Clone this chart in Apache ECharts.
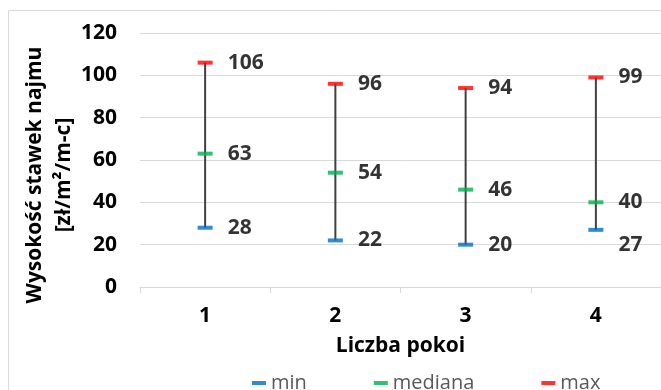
<!DOCTYPE html>
<html><head><meta charset="utf-8">
<script src="https://cdn.jsdelivr.net/npm/echarts@6/dist/echarts.min.js"></script>
<style>html,body{margin:0;padding:0;background:#fff}#c{width:661px;height:390px}</style>
</head><body><div id="c"></div>
<script>
const categories = ['1', '2', '3', '4'];
const minValues = [28, 22, 20, 27];
const medianValues = [63, 54, 46, 40];
const maxValues = [106, 96, 94, 99];
const yTicks = [0, 20, 40, 60, 80, 100, 120];
const seriesNames = ['min', 'mediana', 'max'];
const yTitle = ['Wysokość stawek najmu', '[zł/m²/m-c]'];
const xTitle = 'Liczba pokoi';

const FONT = '"Open Sans", sans-serif';
const colors = ['#0070C0', '#00B050', '#FF0000'];
const labelOffsets = { min: { 3: [0, 15] } };

function markerSeries(name, values, color) {
  return {
    name: name,
    type: 'scatter',
    symbol: 'rect',
    symbolSize: [15, 4],
    itemStyle: { color: color },
    z: 3,
    data: values.map((v, i) => {
      const d = { value: [i, v] };
      if (labelOffsets[name] && labelOffsets[name][i]) d.label = { offset: labelOffsets[name][i] };
      return d;
    }),
    label: {
      show: true, position: 'right', distance: 15,
      fontFamily: FONT, fontWeight: 'bold', fontSize: 21, color: '#000',
      formatter: p => String(p.value[1])
    }
  };
}

const chart = echarts.init(document.getElementById('c'));
chart.setOption({
  animation: false,
  textStyle: { fontFamily: FONT },
  grid: { left: 140, right: -2, top: 33, bottom: 103 },
  graphic: [
    { type: 'rect', shape: { x: 8.5, y: 10.5, width: 700, height: 400 }, style: { fill: 'none', stroke: '#d9d9d9', lineWidth: 1 }, silent: true, z: -10 },
    { type: 'text', x: 50, y: 175, rotation: Math.PI / 2,
      style: { text: yTitle.join('\n'), fontFamily: FONT, fontWeight: 'bold', fontSize: 21, lineHeight: 29, fill: '#000', align: 'center', verticalAlign: 'middle' } }
  ],
  legend: {
    data: seriesNames,
    left: 247, top: 368,
    itemWidth: 14, itemHeight: 4, itemGap: 67,
    icon: 'rect',
    textStyle: { fontFamily: FONT, fontSize: 20, color: '#595959' }
  },
  xAxis: {
    type: 'category', data: categories, boundaryGap: true,
    name: xTitle, nameLocation: 'middle', nameGap: 49,
    nameTextStyle: { fontFamily: FONT, fontWeight: 'bold', fontSize: 21, color: '#000' },
    axisLine: { lineStyle: { color: '#d9d9d9', width: 1 } },
    axisTick: { show: true, alignWithLabel: false, length: 6, lineStyle: { color: '#d9d9d9' } },
    axisLabel: { fontFamily: FONT, fontWeight: 'bold', fontSize: 21, color: '#000', margin: 19 }
  },
  yAxis: {
    type: 'value', min: yTicks[0], max: yTicks[yTicks.length - 1], interval: yTicks[1] - yTicks[0],
    axisLine: { show: false }, axisTick: { show: false },
    splitLine: { lineStyle: { color: '#d9d9d9', width: 1 } },
    axisLabel: { fontFamily: FONT, fontWeight: 'bold', fontSize: 21, color: '#000', margin: 23 }
  },
  series: [
    {
      type: 'custom', name: 'range', z: 2,
      data: categories.map((c, i) => [i, minValues[i], maxValues[i]]),
      renderItem: (params, api) => {
        const a = api.coord([api.value(0), api.value(1)]);
        const b = api.coord([api.value(0), api.value(2)]);
        return { type: 'line', shape: { x1: a[0], y1: a[1], x2: b[0], y2: b[1] }, style: { stroke: '#404040', lineWidth: 2 } };
      }
    },
    markerSeries(seriesNames[0], minValues, colors[0]),
    markerSeries(seriesNames[1], medianValues, colors[1]),
    markerSeries(seriesNames[2], maxValues, colors[2])
  ]
});
</script></body></html>
